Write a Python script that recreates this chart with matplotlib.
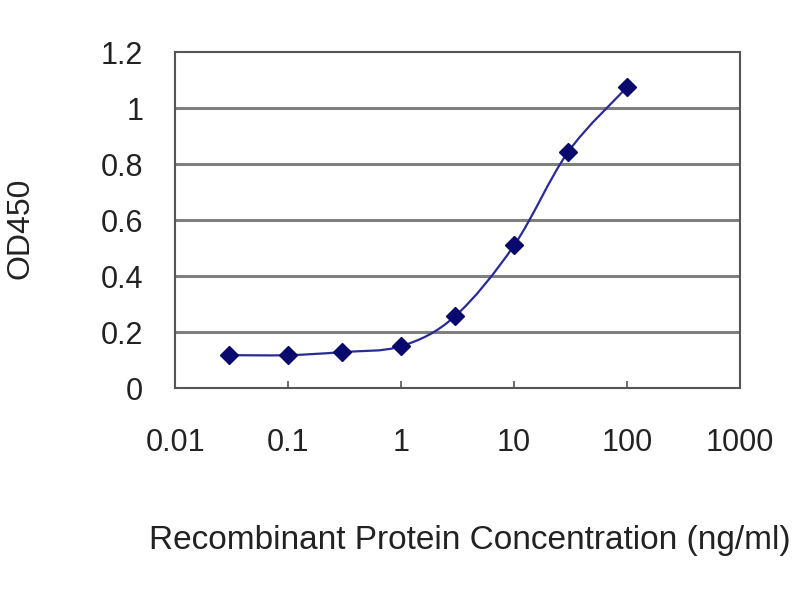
import numpy as np
import matplotlib
matplotlib.use("Agg")
import matplotlib.pyplot as plt
from matplotlib.path import Path
from matplotlib.patches import PathPatch

# Data
conc = [0.03, 0.1, 0.3, 1, 3, 10, 30, 100]
od450 = [0.118, 0.118, 0.129, 0.150, 0.257, 0.510, 0.843, 1.075]
x_ticks = [0.01, 0.1, 1, 10, 100, 1000]
x_tick_labels = ["0.01", "0.1", "1", "10", "100", "1000"]
y_ticks = [0, 0.2, 0.4, 0.6, 0.8, 1.0, 1.2]
y_tick_labels = ["0", "0.2", "0.4", "0.6", "0.8", "1", "1.2"]

plt.rcParams['font.family'] = ['Liberation Sans', 'DejaVu Sans']

fig = plt.figure(figsize=(8, 6), dpi=100)
ax = fig.add_axes([0.219, 0.353, 0.706, 0.560])
ax.set_xscale('log')
ax.set_xlim(0.01, 1000)
ax.set_ylim(0, 1.2)

# horizontal gridlines
for yv in y_ticks[1:-1]:
    ax.axhline(yv, color='#7f7f7f', lw=2.2, zorder=1)

# smoothed line (Catmull-Rom -> cubic Bezier in log-x space)
lx = np.log10(conc)
yy = np.array(od450)
pts = np.column_stack([lx, yy])
verts = [pts[0]]
codes = [Path.MOVETO]
n = len(pts)
for i in range(n - 1):
    p0 = pts[i - 1] if i > 0 else pts[i]
    p1 = pts[i]
    p2 = pts[i + 1]
    p3 = pts[i + 2] if i + 2 < n else pts[i + 1]
    c1 = p1 + (p2 - p0) / 6.0
    c2 = p2 - (p3 - p1) / 6.0
    verts += [c1, c2, p2]
    codes += [Path.CURVE4] * 3
verts = np.array(verts)
verts[:, 0] = 10 ** verts[:, 0]
path = Path(verts, codes)
ax.add_patch(PathPatch(path, facecolor='none', edgecolor='#2a2a9a', lw=1.6, zorder=2))

ax.plot(conc, od450, linestyle='none', marker='D', markersize=9,
        color='#0a0a6e', zorder=3)

ax.set_xticks(x_ticks)
ax.set_xticklabels(x_tick_labels)
ax.minorticks_off()
ax.set_yticks(y_ticks)
ax.set_yticklabels(y_tick_labels)
ax.tick_params(axis='x', direction='in', length=5, width=1.2, color='#555555',
               labelsize=22, pad=29, labelcolor='#222222')
ax.tick_params(axis='y', length=0, labelsize=22, pad=23, labelcolor='#222222')
for sp in ax.spines.values():
    sp.set_color('#555555')
    sp.set_linewidth(1.5)

ax.set_ylabel('OD450', fontsize=23, color='#222222')
ax.yaxis.set_label_coords(-0.274, 0.476)
ax.yaxis.label.set_va('center')
ax.set_xlabel('Recombinant Protein Concentration (ng/ml)', fontsize=24,
              color='#222222')
ax.xaxis.set_label_coords(0.522, -0.452)
ax.xaxis.label.set_va('center')

fig.savefig('out.png', dpi=100, facecolor='white')
